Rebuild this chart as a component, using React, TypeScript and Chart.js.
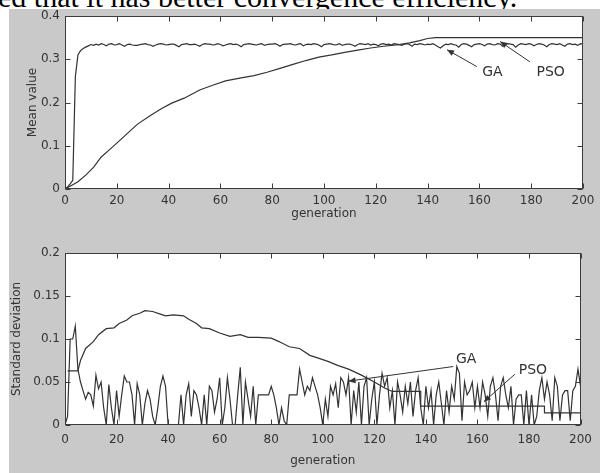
import React, { useEffect, useRef } from "react";
import { Chart, registerables } from "chart.js";

Chart.register(...registerables);

// ---------- data ----------
// Top panel: mean value per generation (0..200)
const gaMean = [
  0, 0.005, 0.012, 0.02, 0.26, 0.31, 0.32, 0.325, 0.328, 0.331,
  0.334, 0.332, 0.335, 0.333, 0.336, 0.334, 0.331, 0.335, 0.336, 0.333,
  0.334, 0.336, 0.333, 0.33, 0.334, 0.335, 0.333, 0.332, 0.332, 0.334,
  0.335, 0.336, 0.334, 0.333, 0.33, 0.333, 0.335, 0.336, 0.335, 0.333,
  0.334, 0.335, 0.335, 0.332, 0.329, 0.334, 0.335, 0.336, 0.334, 0.334,
  0.335, 0.333, 0.33, 0.334, 0.336, 0.335, 0.335, 0.333, 0.334, 0.336,
  0.334, 0.331, 0.333, 0.335, 0.336, 0.334, 0.335, 0.333, 0.329, 0.334,
  0.335, 0.336, 0.335, 0.334, 0.333, 0.335, 0.336, 0.332, 0.334, 0.335,
  0.335, 0.336, 0.334, 0.33, 0.334, 0.335, 0.335, 0.336, 0.334, 0.333,
  0.335, 0.336, 0.331, 0.334, 0.335, 0.334, 0.336, 0.335, 0.333, 0.329,
  0.334, 0.335, 0.336, 0.335, 0.333, 0.334, 0.336, 0.332, 0.334, 0.335,
  0.335, 0.333, 0.33, 0.334, 0.336, 0.335, 0.334, 0.336, 0.333, 0.335,
  0.334, 0.331, 0.335, 0.336, 0.334, 0.335, 0.333, 0.336, 0.335, 0.334,
  0.332, 0.335, 0.336, 0.334, 0.33, 0.335, 0.334, 0.336, 0.335, 0.333,
  0.335, 0.334, 0.336, 0.333, 0.329, 0.326, 0.331, 0.335, 0.334, 0.336,
  0.334, 0.333, 0.328, 0.334, 0.336, 0.335, 0.332, 0.329, 0.334, 0.335,
  0.336, 0.334, 0.331, 0.335, 0.336, 0.334, 0.333, 0.336, 0.335, 0.33,
  0.334, 0.336, 0.335, 0.334, 0.328, 0.333, 0.336, 0.335, 0.334, 0.336,
  0.335, 0.331, 0.334, 0.336, 0.335, 0.333, 0.329, 0.334, 0.336, 0.335,
  0.334, 0.336, 0.333, 0.33, 0.335, 0.336, 0.334, 0.335, 0.332, 0.336,
  0.335,
];

const psoMeanGen = [0, 3, 5, 8, 11, 14, 17, 20, 24, 28, 33, 37, 41, 46, 52, 57, 62, 68, 73, 78, 83, 88, 93, 98, 103, 108, 113, 118, 123, 129, 133, 137, 140, 143, 200];
const psoMean = [0, 0.01, 0.017, 0.032, 0.05, 0.074, 0.09, 0.106, 0.128, 0.15, 0.17, 0.185, 0.198, 0.21, 0.229, 0.24, 0.25, 0.257, 0.262, 0.27, 0.279, 0.288, 0.297, 0.305, 0.31, 0.316, 0.321, 0.326, 0.33, 0.334, 0.338, 0.343, 0.348, 0.35, 0.35];

// Bottom panel: standard deviation per generation (0..200)
const gaStd = [
  0, 0.01, 0.1, 0.1, 0.115, 0.065, 0.05, 0.04, 0.03, 0.038,
  0.035, 0.022, 0.058, 0.042, 0.05, 0.02, 0, 0.047, 0.02, 0,
  0.04, 0.01, 0.035, 0.057, 0.05, 0.05, 0.035, 0, 0.048, 0.035,
  0, 0.025, 0.04, 0.03, 0.01, 0, 0.02, 0.045, 0.057, 0.045,
  0, 0, 0, 0, 0, 0.035, 0, 0.035, 0.048, 0.01,
  0.04, 0.035, 0.02, 0, 0.035, 0, 0.045, 0.04, 0.015, 0.03,
  0.055, 0, 0.02, 0.055, 0.03, 0, 0, 0.035, 0.067, 0,
  0.05, 0.03, 0.01, 0.045, 0, 0.035, 0.035, 0.035, 0.035, 0.035,
  0.045, 0.035, 0.02, 0, 0.02, 0.005, 0, 0.035, 0.035, 0.035,
  0.035, 0.065, 0.05, 0.035, 0.045, 0.04, 0.055, 0.045, 0.035, 0.02,
  0, 0.03, 0.01, 0.045, 0.035, 0.048, 0.02, 0.055, 0.05, 0.035,
  0.055, 0, 0.04, 0.015, 0.05, 0, 0.045, 0.055, 0, 0.03,
  0.05, 0, 0.035, 0.06, 0.045, 0.055, 0.02, 0.04, 0, 0.05,
  0.035, 0.015, 0.045, 0.025, 0.05, 0.01, 0.04, 0.055, 0.02, 0,
  0.045, 0.02, 0.04, 0, 0.035, 0.05, 0.025, 0, 0.04, 0.015,
  0.045, 0.03, 0.068, 0.06, 0.005, 0.05, 0.035, 0.04, 0.05, 0.02,
  0.045, 0.02, 0.05, 0.035, 0.01, 0.045, 0.055, 0.035, 0.005, 0.045,
  0.055, 0.035, 0.02, 0.045, 0, 0.03, 0.035, 0.035, 0, 0.04,
  0, 0.035, 0, 0.01, 0.04, 0.055, 0.03, 0.05, 0.035, 0.005,
  0.055, 0.045, 0.005, 0.035, 0.04, 0.04, 0.005, 0.04, 0.045, 0.065,
  0.045,
];

const psoStdGen = [1, 5, 6, 8, 11, 13, 16, 19, 21, 24, 26, 29, 31, 34, 37, 39, 42, 46, 48, 51, 53, 56, 60, 64, 68, 71, 75, 80, 83, 87, 91, 95, 98, 102, 106, 110, 115, 120, 124, 127, 138, 138, 186, 186, 200];
const psoStd = [0.063, 0.063, 0.075, 0.089, 0.097, 0.105, 0.112, 0.113, 0.118, 0.122, 0.127, 0.13, 0.133, 0.132, 0.129, 0.127, 0.128, 0.127, 0.123, 0.118, 0.113, 0.112, 0.107, 0.103, 0.105, 0.102, 0.102, 0.101, 0.097, 0.091, 0.089, 0.081, 0.078, 0.074, 0.069, 0.065, 0.058, 0.05, 0.043, 0.039, 0.039, 0.022, 0.022, 0.014, 0.014];

// axis ticks
const genTicks = [0, 20, 40, 60, 80, 100, 120, 140, 160, 180, 200];
const meanTicks = [0, 0.1, 0.2, 0.3, 0.4];
const stdTicks = [0, 0.05, 0.1, 0.15, 0.2];

// annotations (label position and arrow in data units)
const topNotes = [
  { text: "GA", at: [165, 0.27], from: [159, 0.283], to: [147.5, 0.322] },
  { text: "PSO", at: [187.5, 0.27], from: [179.5, 0.294], to: [168, 0.341] },
];
const bottomNotes = [
  { text: "GA", at: [155.6, 0.076], from: [150.6, 0.068], to: [110, 0.051] },
  { text: "PSO", at: [181.5, 0.064], from: [174.5, 0.059], to: [162.5, 0.027] },
];

// ---------- styling helpers ----------
const FONT = "'DejaVu Sans', sans-serif";
const INK = "#333333";

const framePlugin = {
  id: "frame",
  beforeDraw(chart: any) {
    const { ctx, chartArea: a } = chart;
    ctx.save();
    ctx.fillStyle = "#ffffff";
    ctx.fillRect(a.left, a.top, a.right - a.left, a.bottom - a.top);
    ctx.restore();
  },
  afterDraw(chart: any) {
    const { ctx, chartArea: a, scales } = chart;
    const L = Math.round(a.left) + 0.5;
    const R = Math.round(a.right) - 0.5;
    const T = Math.round(a.top) + 0.5;
    const B = Math.round(a.bottom) - 0.5;
    ctx.save();
    ctx.strokeStyle = "#3c3c3c";
    ctx.lineWidth = 1;
    ctx.strokeRect(L, T, R - L, B - T);
    ctx.beginPath();
    const tl = 5;
    scales.x.ticks.forEach((t: any) => {
      const px = Math.round(scales.x.getPixelForValue(t.value)) + 0.5;
      ctx.moveTo(px, B);
      ctx.lineTo(px, B - tl);
      ctx.moveTo(px, T);
      ctx.lineTo(px, T + tl);
    });
    scales.y.ticks.forEach((t: any) => {
      const py = Math.round(scales.y.getPixelForValue(t.value)) + 0.5;
      ctx.moveTo(L, py);
      ctx.lineTo(L + tl, py);
      ctx.moveTo(R, py);
      ctx.lineTo(R - tl, py);
    });
    ctx.stroke();

    const notes = chart.options.plugins.notes?.items || [];
    ctx.fillStyle = INK;
    ctx.strokeStyle = INK;
    ctx.font = `14px ${FONT}`;
    ctx.textAlign = "center";
    ctx.textBaseline = "middle";
    notes.forEach((n: any) => {
      const tx = scales.x.getPixelForValue(n.at[0]);
      const ty = scales.y.getPixelForValue(n.at[1]);
      ctx.fillText(n.text, tx, ty);
      const x1 = scales.x.getPixelForValue(n.from[0]);
      const y1 = scales.y.getPixelForValue(n.from[1]);
      const x2 = scales.x.getPixelForValue(n.to[0]);
      const y2 = scales.y.getPixelForValue(n.to[1]);
      ctx.beginPath();
      ctx.lineWidth = 1;
      ctx.moveTo(x1, y1);
      ctx.lineTo(x2, y2);
      ctx.stroke();
      const ang = Math.atan2(y2 - y1, x2 - x1);
      const hl = 7, hw = 3;
      ctx.beginPath();
      ctx.moveTo(x2, y2);
      ctx.lineTo(x2 - hl * Math.cos(ang) + hw * Math.sin(ang), y2 - hl * Math.sin(ang) - hw * Math.cos(ang));
      ctx.lineTo(x2 - hl * Math.cos(ang) - hw * Math.sin(ang), y2 - hl * Math.sin(ang) + hw * Math.cos(ang));
      ctx.closePath();
      ctx.fill();
    });
    ctx.restore();
  },
};

const fmt = (v: any) => String(Number(Number(v).toFixed(3)));

function makeConfig(opts: {
  datasets: any[];
  yMax: number;
  yTicks: number[];
  yTitle: string;
  yTitlePad: number;
  padTop: number;
  xHeight: number;
  xTitlePadBottom: number;
  xTickPad: number;
  notes: any[];
}) {
  return {
    type: "line" as const,
    data: { datasets: opts.datasets },
    plugins: [framePlugin],
    options: {
      responsive: false,
      animation: false as const,
      events: [],
      layout: { padding: { top: opts.padTop, right: 17, left: 0, bottom: 0 } },
      plugins: {
        legend: { display: false },
        tooltip: { enabled: false },
        notes: { items: opts.notes },
      },
      elements: { point: { radius: 0 }, line: { tension: 0 } },
      scales: {
        x: {
          type: "linear" as const,
          min: 0,
          max: 200,
          afterBuildTicks: (s: any) => {
            s.ticks = genTicks.map((v) => ({ value: v }));
          },
          afterFit: (s: any) => {
            s.height = opts.xHeight;
          },
          grid: { display: false, drawTicks: false },
          border: { display: false },
          ticks: {
            padding: opts.xTickPad,
            color: INK,
            font: { family: FONT, size: 12 },
            maxRotation: 0,
            callback: (v: any) => fmt(v),
          },
          title: {
            display: true,
            text: "generation",
            color: INK,
            font: { family: FONT, size: 12 },
            padding: { top: 0, bottom: opts.xTitlePadBottom },
          },
        },
        y: {
          type: "linear" as const,
          min: 0,
          max: opts.yMax,
          afterBuildTicks: (s: any) => {
            s.ticks = opts.yTicks.map((v) => ({ value: v }));
          },
          afterFit: (s: any) => {
            s.width = 65;
          },
          grid: { display: false, drawTicks: false },
          border: { display: false },
          ticks: {
            padding: 5,
            color: INK,
            font: { family: FONT, size: 12 },
            callback: (v: any) => fmt(v),
          },
          title: {
            display: true,
            text: opts.yTitle,
            color: INK,
            font: { family: FONT, size: 12 },
            padding: { top: opts.yTitlePad, bottom: 0 },
          },
        },
      },
    },
  };
}

const lineStyle = { borderColor: INK, borderWidth: 1.2, pointRadius: 0, fill: false };

function Panel(props: { top: number; height: number; config: any }) {
  const ref = useRef<HTMLCanvasElement | null>(null);
  useEffect(() => {
    if (!ref.current) return;
    const chart = new Chart(ref.current, props.config);
    return () => chart.destroy();
  }, []);
  return (
    <canvas
      ref={ref}
      width={600}
      height={props.height}
      style={{ position: "absolute", left: 0, top: props.top, width: 600, height: props.height }}
    />
  );
}

export default function App() {
  const topConfig = makeConfig({
    datasets: [
      { label: "GA", data: gaMean.map((v, i) => ({ x: i, y: v })), ...lineStyle },
      { label: "PSO", data: psoMeanGen.map((g, i) => ({ x: g, y: psoMean[i] })), ...lineStyle },
    ],
    yMax: 0.4,
    yTicks: meanTicks,
    yTitle: "Mean value",
    yTitlePad: 26,
    padTop: 16,
    xHeight: 46,
    xTitlePadBottom: 14,
    xTickPad: 5,
    notes: topNotes,
  });
  const bottomConfig = makeConfig({
    datasets: [
      { label: "GA", data: gaStd.map((v, i) => ({ x: i, y: v })), ...lineStyle },
      { label: "PSO", data: psoStdGen.map((g, i) => ({ x: g, y: psoStd[i] })), ...lineStyle },
    ],
    yMax: 0.2,
    yTicks: stdTicks,
    yTitle: "Standard deviation",
    yTitlePad: 10,
    padTop: 18,
    xHeight: 48,
    xTitlePadBottom: 5,
    xTickPad: 8,
    notes: bottomNotes,
  });

  return (
    <div
      style={{
        position: "absolute",
        left: 0,
        top: 0,
        width: 600,
        height: 473,
        overflow: "hidden",
        background: "#ffffff",
      }}
    >
      <div
        style={{
          position: "absolute",
          left: -2,
          top: -18,
          whiteSpace: "nowrap",
          fontFamily: "'Liberation Serif', 'Times New Roman', serif",
          fontSize: 30,
          lineHeight: "30px",
          color: "#000",
        }}
      >
        ed that it has better convergence efficiency.
      </div>
      <div
        style={{
          position: "absolute",
          left: 9,
          top: 9,
          width: 591,
          height: 464,
          background: "#c9c9c9",
        }}
      />
      <Panel top={0} height={235} config={topConfig} />
      <Panel top={235} height={238} config={bottomConfig} />
    </div>
  );
}
